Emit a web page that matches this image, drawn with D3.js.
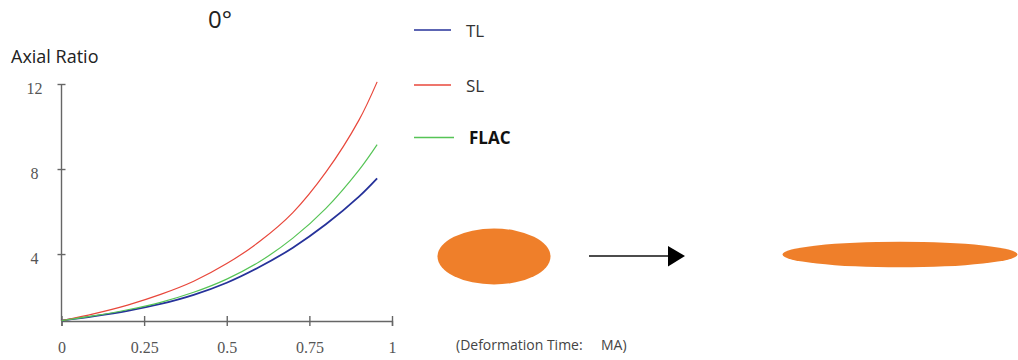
<!DOCTYPE html>
<html lang="en-US">
<head>
  <meta charset="UTF-8"/>
  <title>Axial Ratio 0°</title>
  <style>
    body { margin: 0; background: #fff; }
    svg text { font-family: "Open Sans", "Noto Sans", sans-serif; }
    .tick text { font-family: "Liberation Serif", "DejaVu Serif", serif; }
  </style>
</head>
<body>
<script src="https://cdn.jsdelivr.net/npm/d3@7"></script>
<script>

// data
var xs     = [0, 0.1, 0.2, 0.3, 0.4, 0.5, 0.6, 0.7, 0.8, 0.9, 0.955];
var tlVals = [0.87, 1.08, 1.33, 1.65, 2.08, 2.65, 3.4, 4.3, 5.4, 6.7, 7.56];
var slVals = [0.87, 1.2, 1.6, 2.1, 2.72, 3.55, 4.6, 5.95, 7.85, 10.3, 12.1];
var flVals = [0.87, 1.1, 1.38, 1.73, 2.2, 2.82, 3.65, 4.75, 6.15, 7.95, 9.15];
var xTicks = [0, 0.25, 0.5, 0.75, 1];
var yTicks = [4, 8, 12];
var seriesNames  = ["TL", "SL", "FLAC"];
var seriesColors = ["#26329a", "#e8473b", "#56c456"];

var width = 1018, height = 360;
var svg = d3.select("body").append("svg")
    .attr("width", width)
    .attr("height", height);

// scales
var xScale = d3.scaleLinear().domain([0, 1]).range([61.5, 392]);
var yScale = d3.scaleLinear().domain([0.85, 12]).range([321, 84]);

// axes
var xAxis = svg.append("g")
    .attr("transform", "translate(0," + yScale(0.85) + ")")
    .call(d3.axisBottom(xScale).tickValues(xTicks).tickSizeOuter(0).tickSize(5).tickPadding(16)
      .tickFormat(function(d) { return d; }));
xAxis.selectAll(".tick line").attr("y1", -5).attr("y2", 5);

var yAxis = svg.append("g")
    .attr("transform", "translate(" + xScale(0) + ",0)")
    .call(d3.axisLeft(yScale).tickValues(yTicks).tickSizeOuter(0).tickSize(4));
yAxis.selectAll(".tick line").attr("x1", -4).attr("x2", 4);
yAxis.selectAll(".tick text").attr("x", -27).attr("dy", "0.62em").style("text-anchor", "middle");
yAxis.select(".domain").attr("d", "M0," + yScale(12) + "V" + yScale(0.85));

svg.selectAll(".domain, .tick line").attr("stroke", "#666").attr("stroke-width", 1.4);
svg.selectAll(".tick text").attr("fill", "#555").style("font-size", "16px");

// curves
var line = d3.line()
    .x(function(d) { return xScale(d.x); })
    .y(function(d) { return yScale(d.y); })
    .curve(d3.curveCatmullRom.alpha(0.5));

var allVals = [tlVals, slVals, flVals];
var widths = [1.8, 1.2, 1.2];
allVals.forEach(function(vals, k) {
  svg.append("path")
    .datum(xs.map(function(x, i) { return {x: x, y: vals[i]}; }))
    .attr("fill", "none")
    .attr("stroke", seriesColors[k])
    .attr("stroke-width", widths[k])
    .attr("d", line);
});

// titles
svg.append("text").attr("x", 220).attr("y", 28).style("text-anchor", "middle")
   .style("font-size", "24px").attr("fill", "#222").text("0°");
svg.append("text").attr("x", 11).attr("y", 63)
   .style("font-size", "18px").attr("fill", "#222").text("Axial Ratio");

// legend
var legY = [30, 85, 137.5];
var legEnd = [451, 451, 454];
seriesNames.forEach(function(name, k) {
  svg.append("line")
    .attr("x1", 414).attr("x2", legEnd[k])
    .attr("y1", legY[k]).attr("y2", legY[k])
    .attr("stroke", seriesColors[k]).attr("stroke-width", 1.4);
  svg.append("text")
    .attr("x", k == 2 ? 469 : 466).attr("y", legY[k] + 6.5)
    .style("font-size", "17px")
    .style("font-weight", k == 2 ? "bold" : "normal")
    .attr("fill", k == 2 ? "#111" : "#333")
    .text(name);
});

// deformation sketch
svg.append("ellipse").attr("cx", 494).attr("cy", 256.5).attr("rx", 56.5).attr("ry", 28)
   .attr("fill", "#ef7f2a");
svg.append("line").attr("x1", 589).attr("x2", 670).attr("y1", 256).attr("y2", 256)
   .attr("stroke", "#111").attr("stroke-width", 1.6);
svg.append("path").attr("d", "M668,246L685,256L668,266.5Z").attr("fill", "#000");
svg.append("ellipse").attr("cx", 900).attr("cy", 254.5).attr("rx", 117.5).attr("ry", 12.8)
   .attr("fill", "#ef7f2a");

svg.append("text").attr("x", 456).attr("y", 350)
   .style("font-size", "14px").attr("fill", "#444").text("(Deformation Time:");
svg.append("text").attr("x", 601).attr("y", 350)
   .style("font-size", "14px").attr("fill", "#444").text("MA)");

</script>
</body>
</html>
